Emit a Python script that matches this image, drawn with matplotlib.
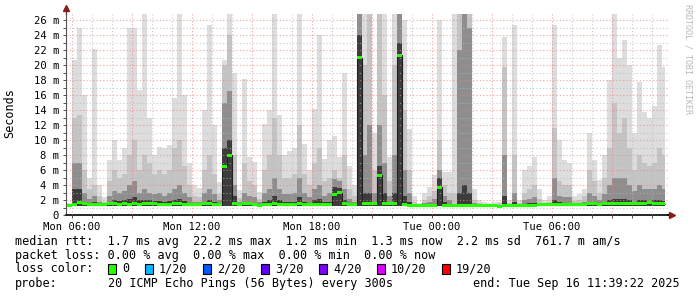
import numpy as np
import matplotlib.pyplot as plt
from matplotlib.patches import Rectangle
from matplotlib.ticker import FixedLocator, FuncFormatter

# smoke levels (ms) per 15 min bin, Mon 05:45 .. Tue 11:39
rtt_max = [1.6, 20.7, 25.0, 16.0, 5.0, 22.2, 4.0, 2.4, 7.3, 10.0,
           7.3, 8.9, 24.9, 24.9, 16.7, 26.8, 13.0, 8.0, 9.1, 8.9,
           9.3, 15.6, 26.8, 16.0, 7.0, 4.0, 3.6, 14.0, 25.3, 12.0,
           4.4, 20.7, 26.8, 19.0, 3.3, 18.2, 7.8, 7.1, 3.1, 12.2,
           14.0, 26.8, 13.3, 8.0, 8.5, 9.0, 26.8, 9.5, 6.0, 14.2,
           24.0, 7.5, 10.0, 10.5, 7.8, 19.0, 6.5, 4.0, 26.8, 26.8,
           26.8, 11.0, 26.8, 26.8, 7.8, 26.8, 26.8, 26.0, 11.5, 2.5,
           1.6, 2.9, 3.8, 5.3, 26.0, 5.8, 5.8, 26.8, 26.8, 26.8,
           26.8, 3.5, 2.0, 1.8, 1.6, 1.7, 1.8, 23.7, 2.0, 25.3,
           2.0, 6.0, 6.5, 7.8, 3.5, 2.0, 2.5, 25.3, 10.0, 7.3,
           7.0, 2.5, 2.8, 3.5, 11.0, 7.3, 4.7, 8.0, 18.0, 26.8,
           21.0, 23.3, 20.0, 11.0, 17.8, 13.7, 12.9, 14.6, 22.7, 19.8]
rtt_upper = [1.5, 13.0, 13.3, 6.0, 3.5, 4.0, 2.5, 1.8, 4.5, 6.0,
             5.0, 5.5, 8.0, 10.0, 6.0, 8.0, 7.0, 5.5, 6.0, 5.5,
             6.0, 9.0, 10.0, 6.5, 4.0, 2.5, 2.4, 6.0, 8.0, 5.5,
             2.8, 20.0, 24.0, 8.0, 2.3, 7.0, 4.5, 4.0, 2.2, 6.0,
             8.0, 13.0, 8.0, 5.0, 5.0, 5.5, 12.0, 5.5, 4.0, 7.0,
             9.0, 4.5, 5.0, 6.0, 5.0, 8.0, 3.5, 2.5, 26.8, 20.0,
             26.8, 6.0, 26.8, 16.0, 4.5, 20.0, 26.8, 14.0, 6.0, 1.8,
             1.5, 2.0, 2.5, 3.2, 10.0, 4.0, 3.0, 3.0, 26.8, 26.8,
             26.8, 2.0, 1.6, 1.5, 1.5, 1.5, 1.6, 19.7, 1.6, 8.0,
             1.6, 3.0, 3.5, 4.0, 2.2, 1.6, 1.8, 11.6, 4.5, 4.0,
             4.0, 1.9, 2.0, 2.5, 6.0, 4.5, 3.0, 5.0, 9.0, 15.0,
             11.0, 13.0, 9.0, 6.0, 8.0, 7.0, 6.5, 7.0, 9.0, 8.0]
rtt_mid = [1.4, 6.9, 6.9, 3.0, 2.2, 2.5, 1.8, 1.6, 2.5, 3.2,
           3.0, 3.2, 4.0, 4.5, 3.0, 3.5, 3.0, 2.8, 3.0, 2.6,
           3.0, 3.5, 4.0, 3.0, 2.4, 1.8, 1.8, 3.0, 3.5, 2.8,
           2.0, 15.0, 16.5, 4.0, 1.8, 3.0, 2.5, 2.4, 1.7, 3.0,
           3.5, 5.0, 3.5, 2.8, 2.8, 3.0, 5.0, 3.0, 2.4, 3.5,
           4.0, 2.6, 3.0, 4.8, 4.5, 3.5, 2.2, 1.8, 26.8, 8.0,
           12.0, 3.0, 12.0, 7.0, 2.6, 8.0, 26.8, 6.0, 3.0, 1.5,
           1.4, 1.6, 1.8, 2.2, 6.0, 2.5, 2.0, 1.4, 22.0, 26.8,
           25.0, 1.6, 1.4, 1.4, 1.4, 1.4, 1.4, 8.0, 1.4, 3.0,
           1.4, 2.0, 2.2, 2.4, 1.6, 1.4, 1.5, 5.0, 2.5, 2.4,
           2.4, 1.6, 1.6, 1.8, 3.0, 2.6, 2.0, 2.8, 4.0, 5.0,
           5.0, 5.0, 4.0, 3.2, 4.0, 3.5, 3.5, 3.5, 4.0, 3.5]
rtt_inner = [1.3, 3.5, 3.5, 1.8, 1.6, 1.7, 1.5, 1.4, 1.8, 2.0,
             1.9, 2.0, 2.2, 2.4, 2.0, 2.0, 2.0, 1.9, 1.9, 1.8,
             1.9, 2.0, 2.2, 1.9, 1.6, 1.5, 1.5, 1.8, 2.0, 1.8,
             1.5, 9.0, 10.0, 2.5, 1.4, 1.8, 1.7, 1.6, 1.4, 1.8,
             2.0, 2.5, 2.0, 1.8, 1.8, 1.8, 2.4, 1.8, 1.6, 2.0,
             2.2, 1.7, 1.8, 3.8, 3.6, 2.0, 1.5, 1.4, 24.0, 3.0,
             3.0, 1.8, 6.5, 3.0, 1.6, 3.0, 23.0, 2.5, 1.8, 1.3,
             1.3, 1.4, 1.4, 1.5, 5.0, 1.8, 1.5, 1.3, 3.0, 4.0,
             3.0, 1.4, 1.3, 1.3, 1.3, 1.3, 1.3, 2.5, 1.3, 1.8,
             1.3, 1.5, 1.6, 1.6, 1.4, 1.3, 1.3, 2.0, 1.7, 1.6,
             1.6, 1.4, 1.4, 1.5, 1.8, 1.7, 1.5, 1.8, 2.0, 2.2,
             2.2, 2.2, 2.0, 1.8, 2.0, 2.0, 1.9, 2.0, 2.0, 1.9]
rtt_median = [1.3, 1.4, 1.7, 1.5, 1.4, 1.4, 1.4, 1.4, 1.6, 1.5,
              1.4, 1.5, 1.4, 1.5, 1.4, 1.6, 1.5, 1.6, 1.4, 1.4,
              1.4, 1.5, 1.5, 1.4, 1.4, 1.4, 1.4, 1.5, 1.5, 1.4,
              1.4, 6.5, 8.0, 1.6, 1.4, 1.5, 1.5, 1.4, 1.3, 1.4,
              1.4, 1.5, 1.4, 1.4, 1.4, 1.4, 1.5, 1.4, 1.4, 1.4,
              1.4, 1.4, 1.4, 2.7, 3.0, 1.6, 1.4, 1.4, 21.0, 1.5,
              1.6, 1.6, 5.3, 1.6, 1.5, 1.5, 21.3, 1.4, 1.3, 1.3,
              1.3, 1.3, 1.3, 1.3, 3.7, 1.3, 1.3, 1.3, 1.3, 1.3,
              1.3, 1.3, 1.3, 1.3, 1.3, 1.3, 1.2, 1.3, 1.3, 1.3,
              1.3, 1.3, 1.3, 1.3, 1.4, 1.4, 1.4, 1.4, 1.4, 1.4,
              1.4, 1.4, 1.4, 1.4, 1.5, 1.5, 1.4, 1.5, 1.6, 1.5,
              1.6, 1.6, 1.5, 1.5, 1.6, 1.5, 1.7, 1.6, 1.6, 1.5]
rtt_floor = 1.2

t_start = 5.75   # hours since Mon 00:00
t_end = 35.66    # Tue 11:39
bin_h = 0.25

tick_hours = [6, 12, 18, 24, 30]
tick_names = ["Mon 06:00", "Mon 12:00", "Mon 18:00", "Tue 00:00", "Tue 06:00"]

loss_labels = ["0", "1/20", "2/20", "3/20", "4/20", "10/20", "19/20"]
loss_colors = ["#26ff00", "#00b8ff", "#0059ff", "#5e00ff", "#7e00ff", "#dd00ff", "#ff0000"]

stats_rtt = "median rtt:  1.7 ms avg  22.2 ms max  1.2 ms min  1.3 ms now  2.2 ms sd  761.7 m am/s"
stats_loss = "packet loss: 0.00 % avg  0.00 % max  0.00 % min  0.00 % now"
probe_txt = "20 ICMP Echo Pings (56 Bytes) every 300s"
end_txt = "end: Tue Sep 16 11:39:22 2025"

W, H = 697, 297
mono = "DejaVu Sans Mono"
fig = plt.figure(figsize=(W / 100, H / 100), dpi=100)
ax = fig.add_axes([66 / W, 1 - 215 / H, (668 - 66) / W, (215 - 14) / H])

n = len(rtt_max)
edges = t_start + bin_h * np.arange(n + 1)
edges[-1] = t_end
floor = np.full(n, rtt_floor)

# smoke, outer to inner
for vals, col in [(rtt_max, "#dddddd"), (rtt_upper, "#c4c4c4"),
                  (rtt_mid, "#8e8e8e"), (rtt_inner, "#3c3c3c")]:
    ax.stairs(vals, edges, baseline=floor, fill=True, color=col, lw=0, zorder=1)

med = np.array(rtt_median)
ax.stairs(med, edges, baseline=None, color="#202020", lw=0.8, zorder=3)
ax.stairs(med + 0.2, edges, baseline=med - 0.2, fill=True, color=loss_colors[0], lw=0, zorder=4)

ax.set_xlim(5.7, 35.8)
ax.set_ylim(0, 26.8)

ax.xaxis.set_major_locator(FixedLocator(np.arange(6, 36, 3)))
ax.xaxis.set_minor_locator(FixedLocator(np.arange(6, 36, 1)))
lbl = dict(zip(tick_hours, tick_names))
ax.xaxis.set_major_formatter(FuncFormatter(lambda v, p: lbl.get(int(round(v)), "")))
ax.yaxis.set_major_locator(FixedLocator(np.arange(0, 27, 2)))
ax.yaxis.set_minor_locator(FixedLocator(np.arange(1, 27, 2)))
ax.yaxis.set_major_formatter(FuncFormatter(lambda v, p: "0" if v == 0 else f"{int(v)} m"))

ax.set_axisbelow(False)
ax.grid(which="major", color="#f08080", ls=(0, (1, 2)), lw=0.8, alpha=0.75)
ax.grid(which="minor", color="#bbbbbb", ls=(0, (1, 2)), lw=0.8, alpha=0.75)

for lab in ax.get_xticklabels() + ax.get_yticklabels():
    lab.set_fontfamily(mono)
    lab.set_fontsize(7.6)
ax.tick_params(which="both", length=2, width=0.6, colors="#333333", labelcolor="black")
ax.tick_params(axis="x", pad=3)
ax.tick_params(axis="y", pad=3)

for s in ["top", "right"]:
    ax.spines[s].set_visible(False)
ax.spines["left"].set_color("#555555")
ax.spines["bottom"].set_color("black")
ax.spines["bottom"].set_linewidth(1.2)

# axis arrows
ax.plot([0, 0], [1, 1.03], transform=ax.transAxes, color="#555555", lw=1, clip_on=False)
ax.plot([0], [1.03], marker="^", ms=4, color="#8b1a1a", transform=ax.transAxes, clip_on=False)
ax.plot([1, 1.007], [0, 0], transform=ax.transAxes, color="black", lw=1.2, clip_on=False)
ax.plot([1.007], [0], marker=">", ms=4, color="#8b1a1a", transform=ax.transAxes, clip_on=False)

fig.text(10 / W, 1 - 113 / H, "Seconds", rotation=90, ha="center", va="center",
         family=mono, fontsize=8.5)
fig.text(688 / W, 1 - 4 / H, "RRDTOOL / TOBI OETIKER", rotation=270, ha="center", va="top",
         family=mono, fontsize=6, color="#b8b8b8")

def row_y(py):
    return 1 - py / H

fs = 8.5
fig.text(15 / W, row_y(241), stats_rtt, family=mono, fontsize=fs, va="center")
fig.text(15 / W, row_y(255), stats_loss, family=mono, fontsize=fs, va="center")
fig.text(15 / W, row_y(269), "loss color:", family=mono, fontsize=fs, va="center")
fig.text(15 / W, row_y(283), "probe:", family=mono, fontsize=fs, va="center")
fig.text(108 / W, row_y(283), probe_txt, family=mono, fontsize=fs, va="center")
fig.text(680 / W, row_y(283), end_txt, family=mono, fontsize=fs, va="center", ha="right")

px = 108
for lab, col in zip(loss_labels, loss_colors):
    fig.patches.append(Rectangle((px / W, row_y(274)), 8 / W, 10 / H, transform=fig.transFigure,
                                 facecolor=col, edgecolor="black", lw=0.8))
    fig.text((px + 14) / W, row_y(269), lab, family=mono, fontsize=fs, va="center")
    px += 14 + len(lab) * 7.0 + 16

fig.savefig("out.png", dpi=100, facecolor="white")
